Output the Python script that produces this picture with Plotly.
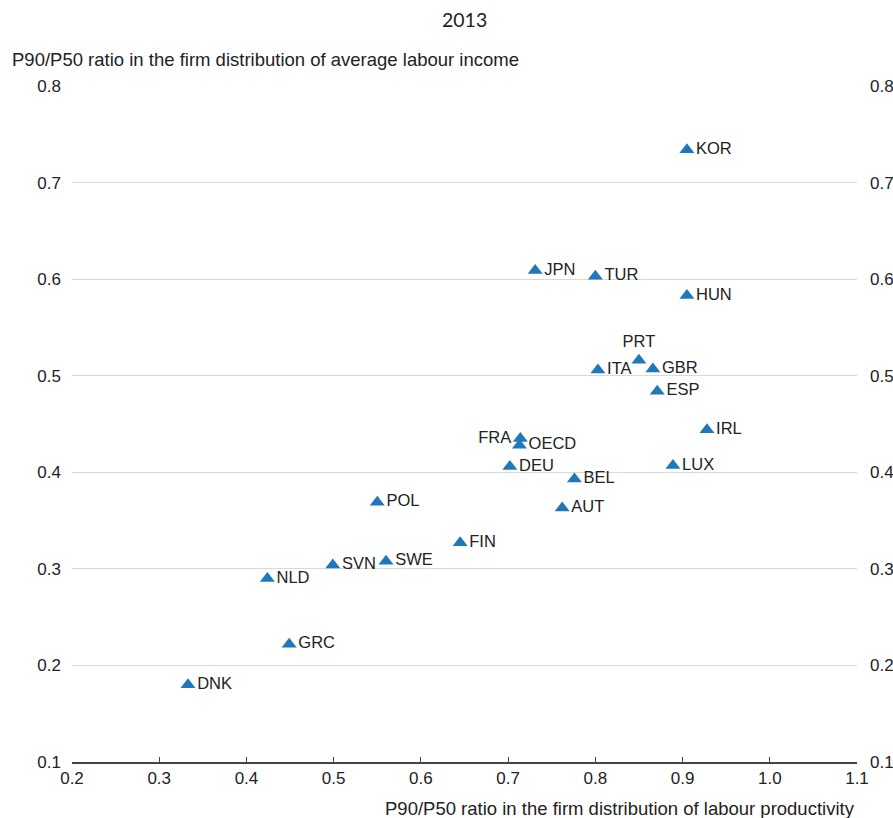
import plotly.graph_objects as go

countries = ["KOR", "JPN", "TUR", "HUN", "PRT", "ITA", "GBR", "ESP", "IRL", "FRA", "OECD",
             "DEU", "LUX", "BEL", "AUT", "POL", "FIN", "SVN", "SWE", "NLD", "GRC", "DNK"]
productivity = [0.905, 0.731, 0.800, 0.905, 0.850, 0.803, 0.866, 0.871, 0.928, 0.714, 0.713,
                0.702, 0.889, 0.776, 0.762, 0.550, 0.645, 0.499, 0.560, 0.424, 0.449, 0.333]
labour_income = [0.734, 0.609, 0.603, 0.583, 0.516, 0.506, 0.507, 0.484, 0.444, 0.435, 0.428,
                 0.406, 0.407, 0.393, 0.363, 0.369, 0.327, 0.304, 0.308, 0.290, 0.222, 0.180]
label_pos = ["middle right"] * len(countries)
label_pos[countries.index("PRT")] = "top center"
label_pos[countries.index("FRA")] = "middle left"

y_ticks = [0.1, 0.2, 0.3, 0.4, 0.5, 0.6, 0.7, 0.8]
x_ticks = [0.2, 0.3, 0.4, 0.5, 0.6, 0.7, 0.8, 0.9, 1.0, 1.1]

FONT = "Liberation Sans, Arial, sans-serif"
W, H = 893, 818
L, R, T, B = 72, 893 - 857, 86, 818 - 762
plot_w = W - L - R
plot_h = H - T - B

def px_to_paper(px, py):
    return (px - L) / plot_w, (H - py - B) / plot_h

fig = go.Figure()
fig.add_trace(go.Scatter(
    x=productivity, y=labour_income, mode="markers+text",
    text=countries, textposition=label_pos,
    textfont=dict(family=FONT, size=16.5, color="#222222"),
    marker=dict(symbol="triangle-up", size=13, color="#1F78BA"),
    cliponaxis=False, showlegend=False, hoverinfo="skip"))
fig.add_trace(go.Scatter(x=[None], y=[None], yaxis="y2", showlegend=False, hoverinfo="skip"))

tx, ty = px_to_paper(10, 60)
ax_x, ax_y = px_to_paper(857, 808)
sx, sy = px_to_paper(464, 19)

fig.update_layout(
    width=W, height=H,
    margin=dict(l=L, r=R, t=T, b=B),
    paper_bgcolor="white", plot_bgcolor="white",
    font=dict(family=FONT, size=17, color="#222222"),
    xaxis=dict(range=[0.2, 1.1], tickvals=x_ticks, ticktext=[f"{v:.1f}" for v in x_ticks],
               showgrid=False, zeroline=False, showline=True, linecolor="#444444", linewidth=1.5,
               ticks="inside", ticklen=5, tickcolor="#444444", automargin=False,
               tickfont=dict(size=17, color="#222222")),
    yaxis=dict(range=[0.1, 0.8], tickvals=y_ticks, ticktext=[f"{v:.1f}" for v in y_ticks],
               showgrid=True, gridcolor="#d9d9d9", gridwidth=1, zeroline=False,
               showline=False, ticks="", ticklabelstandoff=10, automargin=False,
               tickfont=dict(size=17, color="#222222")),
    yaxis2=dict(range=[0.1, 0.8], overlaying="y", side="right", tickvals=y_ticks,
                ticktext=[f"{v:.1f}" for v in y_ticks], showgrid=False, zeroline=False,
                showline=False, ticks="", ticklabelstandoff=12, automargin=False,
                tickfont=dict(size=17, color="#222222")),
    annotations=[
        dict(text="2013", x=sx, y=sy, xref="paper", yref="paper", xanchor="center",
             yanchor="middle", showarrow=False,
             font=dict(family="Lato, Open Sans, sans-serif", size=19.5, color="#222222")),
        dict(text="P90/P50 ratio in the firm distribution of average labour income",
             x=tx, y=ty, xref="paper", yref="paper", xanchor="left", yanchor="middle",
             showarrow=False, font=dict(size=18.5)),
        dict(text="P90/P50 ratio in the firm distribution of labour productivity",
             x=ax_x, y=ax_y, xref="paper", yref="paper", xanchor="right", yanchor="middle",
             showarrow=False, font=dict(size=18.5)),
    ],
)

fig.write_html(
    "out.html",
    config={"displayModeBar": False},
    post_script="document.body.style.margin='0';document.body.style.overflow='hidden';",
)
